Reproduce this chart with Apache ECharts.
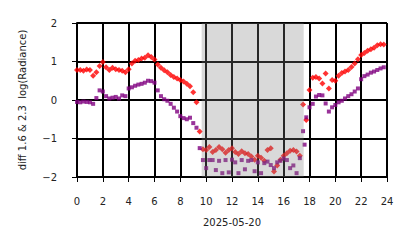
<!DOCTYPE html>
<html>
<head>
<meta charset="utf-8">
<style>html,body{margin:0;padding:0;background:#fff;}#c{width:414px;height:248px;}</style>
<script src="https://cdn.jsdelivr.net/npm/echarts@6/dist/echarts.min.js"></script>
</head>
<body>
<div id="c"></div>
<script>
var hours = [0,0.25,0.5,0.75,1,1.25,1.5,1.75,2,2.25,2.5,2.75,3,3.25,3.5,3.75,4,4.25,4.5,4.75,5,5.25,5.5,5.75,6,6.25,6.5,6.75,7,7.25,7.5,7.75,8,8.25,8.5,8.75,9,9.25,9.5,9.75,10,10.25,10.5,10.75,11,11.25,11.5,11.75,12,12.25,12.5,12.75,13,13.25,13.5,13.75,14,14.25,14.5,14.75,15,15.25,15.5,15.75,16,16.25,16.5,16.75,17,17.25,17.5,17.75,18,18.25,18.5,18.75,19,19.25,19.5,19.75,20,20.25,20.5,20.75,21,21.25,21.5,21.75,22,22.25,22.5,22.75,23,23.25,23.5,23.75];
var redVals = [0.78,0.78,0.76,0.79,0.78,0.63,0.72,0.88,0.99,0.85,0.78,0.84,0.80,0.78,0.76,0.72,0.80,0.95,1.02,1.04,1.08,1.10,1.16,1.12,1.05,0.92,0.84,0.77,0.72,0.65,0.60,0.56,0.52,0.48,0.42,0.36,0.20,-0.06,-0.82,-1.28,-1.30,-1.22,-1.35,-1.30,-1.22,-1.28,-1.37,-1.30,-1.25,-1.35,-1.40,-1.33,-1.38,-1.40,-1.47,-1.55,-1.45,-1.50,-1.58,-1.30,-1.25,-1.86,-1.70,-1.55,-1.45,-1.38,-1.32,-1.30,-1.34,-1.45,-0.12,-0.52,0.26,0.58,0.60,0.56,0.43,0.69,0.30,0.52,0.50,0.63,0.70,0.74,0.78,0.86,0.95,1.06,1.17,1.22,1.28,1.32,1.36,1.42,1.45,1.44];
var purpleVals = [-0.05,-0.06,-0.04,-0.05,-0.06,-0.10,0.05,0.25,0.22,0.10,0.04,0.06,0.08,0.04,0.12,0.10,0.30,0.33,0.37,0.40,0.42,0.45,0.50,0.49,0.45,0.25,0.10,0.02,-0.02,-0.10,-0.20,-0.30,-0.42,-0.47,-0.50,-0.46,-0.60,-0.72,-1.25,-1.56,-1.77,-1.56,-1.56,-1.82,-1.58,-1.90,-1.56,-1.88,-1.55,-1.62,-1.90,-1.56,-1.80,-1.58,-1.56,-1.85,-1.62,-1.90,-1.64,-1.60,-1.69,-1.77,-1.62,-1.58,-1.52,-1.56,-1.77,-1.70,-1.90,-1.51,-0.81,-0.45,-0.19,-0.10,0.09,0.13,0.12,-0.09,-0.30,-0.19,-0.13,-0.06,-0.02,0.04,0.10,0.15,0.22,0.30,0.54,0.62,0.66,0.71,0.74,0.78,0.82,0.85];
var extraPurpleHours = [17.62];
var extraPurpleVals = [-1.16];
var nightSpan = [9.65, 17.55];
var xTicks = [0,2,4,6,8,10,12,14,16,18,20,22,24];
var yTicks = [-2,-1,0,1,2];
var yTickLabels = ['\u22122','\u22121','0','1','2'];
var xName = '2025-05-20';
var yName = 'diff 1.6 & 2.3  log(Radiance)';

var X_MIN = 0, X_MAX = 24, Y_MIN = -2, Y_MAX = 2;
var X_TICK_EXT = 0.234;
var Y_TICK_EXT = 0.774;

var redData = hours.map(function(h,i){return [h, redVals[i]];});
var purpleData = hours.map(function(h,i){return [h, purpleVals[i]];});
extraPurpleHours.forEach(function(h,i){purpleData.push([h, extraPurpleVals[i]]);});

var gridLines = [];
xTicks.forEach(function(x){ gridLines.push([{coord:[x, Y_MIN - X_TICK_EXT]}, {coord:[x, Y_MAX]}]); });
yTicks.forEach(function(y){ gridLines.push([{coord:[X_MIN - Y_TICK_EXT, y]}, {coord:[X_MAX, y]}]); });

var font = 'DejaVu Sans';
var chart = echarts.init(document.getElementById('c'), null, {renderer:'svg'});
chart.setOption({
  animation: false,
  backgroundColor: '#fff',
  grid: {left: 77, right: 27, top: 23, bottom: 71, containLabel: false},
  xAxis: {
    type: 'value', min: X_MIN, max: X_MAX, interval: 2,
    name: xName, nameLocation: 'middle', nameGap: 40,
    nameTextStyle: {fontFamily: font, fontSize: 10, color: '#222'},
    axisLine: {show: true, onZero: false, lineStyle: {color: '#000', width: 2}},
    axisLabel: {fontFamily: font, fontSize: 10, color: '#222', margin: 19, showMaxLabel: true, hideOverlap: false,
      formatter: function(v){ return String(v); }},
    splitLine: {show: true, lineStyle: {color: '#000', width: 2}}
  },
  yAxis: {
    type: 'value', min: Y_MIN, max: Y_MAX, interval: 1,
    name: yName, nameLocation: 'middle', nameGap: 50, nameRotate: 90,
    nameTextStyle: {fontFamily: font, fontSize: 10, color: '#222'},
    axisLine: {show: true, onZero: false, lineStyle: {color: '#000', width: 2}},
    axisLabel: {fontFamily: font, fontSize: 10, color: '#222', margin: 20,
      formatter: function(v){ var i = yTicks.indexOf(v); return i >= 0 ? yTickLabels[i] : ''; }},
    splitLine: {show: true, lineStyle: {color: '#000', width: 2}}
  },
  series: [
    {type: 'scatter', data: redData, symbol: 'diamond', symbolSize: 6, clip: false,
      itemStyle: {color: '#ff0000'}, z: 2,
      markLine: {silent: true, z: 1, symbol: ['none','none'], animation: false,
        label: {show: false}, emphasis: {disabled: true},
        lineStyle: {color: '#000', width: 2, type: 'solid'},
        data: gridLines}},
    {type: 'scatter', data: purpleData, symbol: 'rect', symbolSize: 4,
      itemStyle: {color: '#800080'}, z: 3,
      markArea: {silent: true, z: 10, itemStyle: {color: 'rgba(128,128,128,0.3)'},
        data: [[{xAxis: nightSpan[0]}, {xAxis: nightSpan[1]}]]}}
  ]
});
</script>
</body>
</html>
